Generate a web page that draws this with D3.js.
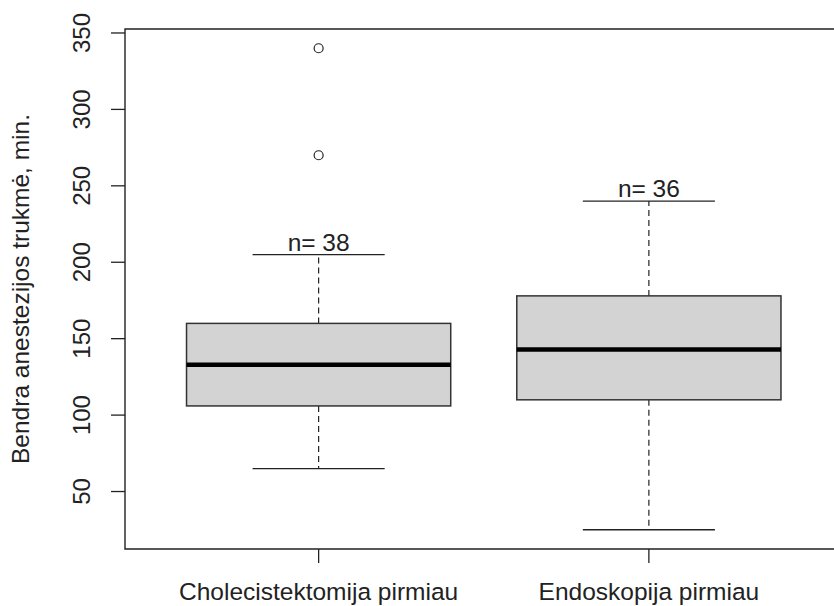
<!DOCTYPE html>
<html>
<head>
<meta charset="utf-8">
<script src="https://cdn.jsdelivr.net/npm/d3@7"></script>
<style>
html,body{margin:0;padding:0;background:#fff;}
svg{display:block;font-family:"Liberation Sans",Arial,sans-serif;}
</style>
</head>
<body>
<svg id="chart" width="834" height="606"></svg>
<script>
// ---- data ----
const categories = ["Cholecistektomija pirmiau", "Endoskopija pirmiau"];
const counts = [38, 36];
const whiskerLow = [65, 25];
const q1 = [106, 110];
const medians = [133, 143];
const q3 = [160, 178];
const whiskerHigh = [205, 240];
const outliers = [[270, 340], []];
const yTicks = [50, 100, 150, 200, 250, 300, 350];
const yTitle = "Bendra anestezijos trukmė, min.";

// ---- layout ----
const svg = d3.select("#chart");
const plot = {left: 125, right: 842, top: 29, bottom: 549};
const y = d3.scaleLinear().domain([12.4, 352.6]).range([plot.bottom, plot.top]);
const x = d3.scaleLinear().domain([0.5, 2.5]).range([153.5, 814]);
const boxW = x(1.8) - x(1.0);   // 0.8-wide box
const capW = x(1.2) - x(1.0);   // half cap width

const boxes = categories.map((c, i) => ({
  cat: c, pos: i + 1, n: counts[i], lo: whiskerLow[i], q1: q1[i], med: medians[i],
  q3: q3[i], hi: whiskerHigh[i], out: outliers[i]
}));

const g = svg.append("g");

boxes.forEach(b => {
  const cx = x(b.pos);
  g.append("line").attr("x1", cx).attr("x2", cx).attr("y1", y(b.q3)).attr("y2", y(b.hi))
    .attr("stroke", "#222").attr("stroke-width", 1.2).attr("stroke-dasharray", "6,4");
  g.append("line").attr("x1", cx).attr("x2", cx).attr("y1", y(b.q1)).attr("y2", y(b.lo))
    .attr("stroke", "#222").attr("stroke-width", 1.2).attr("stroke-dasharray", "6,4");
  [b.hi, b.lo].forEach(v => {
    g.append("line").attr("x1", cx - capW).attr("x2", cx + capW).attr("y1", y(v)).attr("y2", y(v))
      .attr("stroke", "#222").attr("stroke-width", 1.3);
  });
  g.append("rect")
    .attr("x", cx - boxW / 2).attr("width", boxW)
    .attr("y", y(b.q3)).attr("height", y(b.q1) - y(b.q3))
    .attr("fill", "#d3d3d3").attr("stroke", "#333").attr("stroke-width", 1.5);
  g.append("line").attr("x1", cx - boxW / 2).attr("x2", cx + boxW / 2)
    .attr("y1", y(b.med)).attr("y2", y(b.med))
    .attr("stroke", "#000").attr("stroke-width", 4.5);
  b.out.forEach(v => {
    g.append("circle").attr("cx", cx).attr("cy", y(v)).attr("r", 4.5)
      .attr("fill", "none").attr("stroke", "#222").attr("stroke-width", 1.2);
  });
  g.append("text").attr("x", cx).attr("y", y(b.hi) - 4)
    .attr("text-anchor", "middle").attr("font-size", 24.5).attr("fill", "#222")
    .text("n= " + b.n);
});

// frame
svg.append("path")
  .attr("d", `M${plot.right},${plot.top}H${plot.left}V${plot.bottom}H${plot.right}`)
  .attr("fill", "none").attr("stroke", "#222").attr("stroke-width", 1.4);

// y axis
const yAxis = svg.append("g");
yTicks.forEach(t => {
  yAxis.append("line").attr("x1", plot.left - 14).attr("x2", plot.left)
    .attr("y1", y(t)).attr("y2", y(t)).attr("stroke", "#222").attr("stroke-width", 1.3);
  yAxis.append("text")
    .attr("transform", `translate(90,${y(t)}) rotate(-90)`)
    .attr("text-anchor", "middle").attr("font-size", 24).attr("fill", "#222")
    .text(t);
});

// x axis
boxes.forEach(b => {
  const cx = x(b.pos);
  svg.append("line").attr("x1", cx).attr("x2", cx).attr("y1", plot.bottom).attr("y2", plot.bottom + 14)
    .attr("stroke", "#222").attr("stroke-width", 1.3);
  svg.append("text").attr("x", cx).attr("y", 600)
    .attr("text-anchor", "middle").attr("font-size", 24.5).attr("fill", "#222")
    .text(b.cat);
});

// y title
svg.append("text")
  .attr("transform", `translate(29,${(plot.top + plot.bottom) / 2}) rotate(-90)`)
  .attr("text-anchor", "middle").attr("font-size", 24.5).attr("fill", "#222")
  .text(yTitle);
</script>
</body>
</html>
